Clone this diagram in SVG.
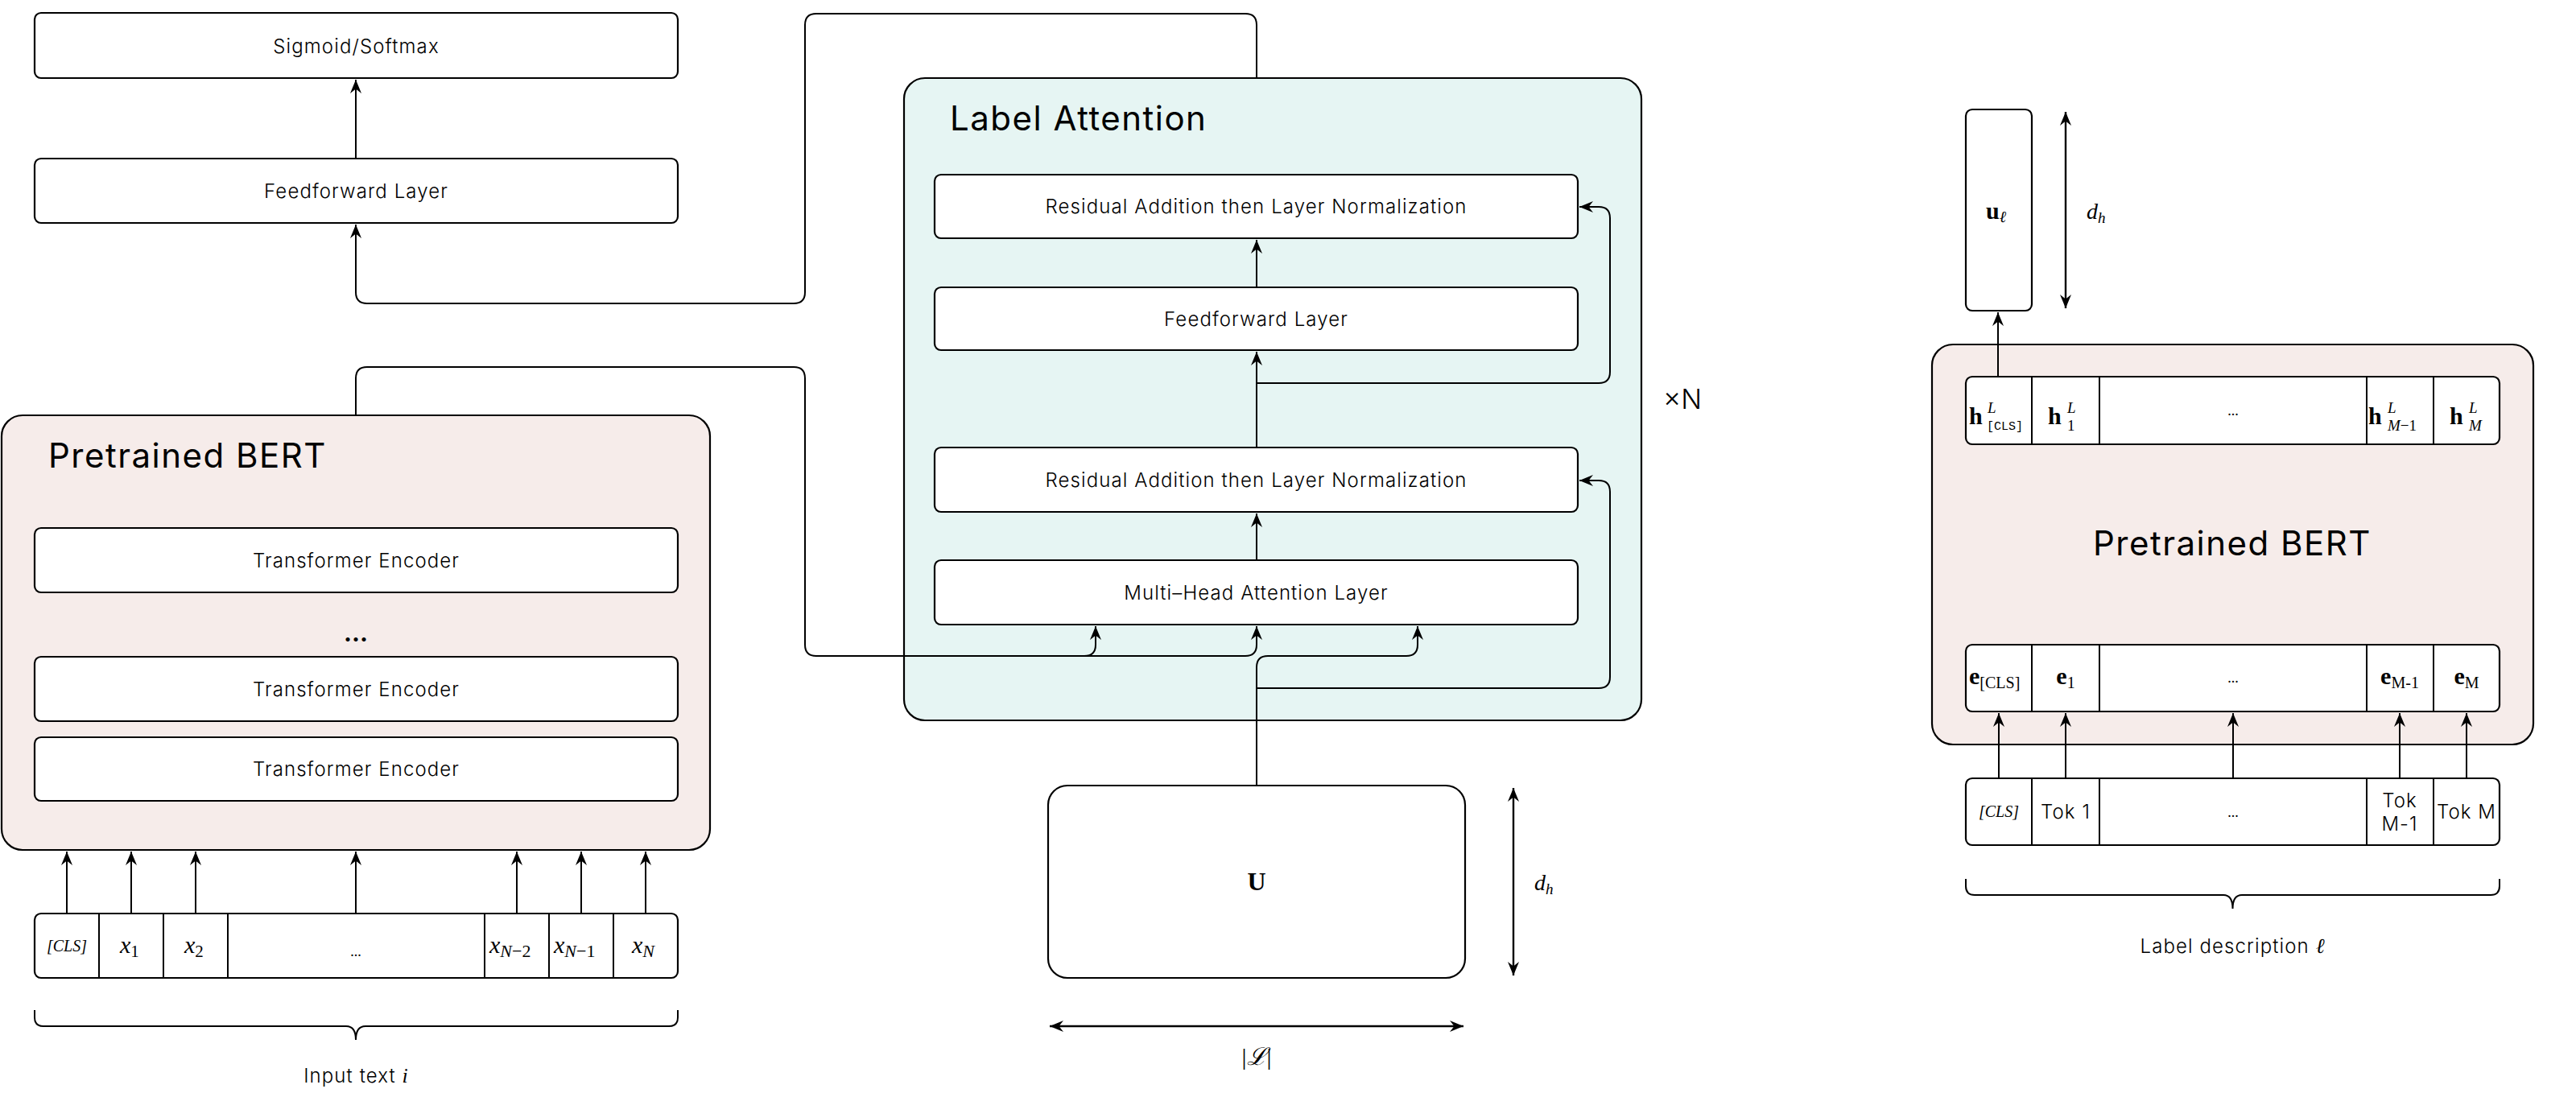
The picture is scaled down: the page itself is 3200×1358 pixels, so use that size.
<svg xmlns="http://www.w3.org/2000/svg" width="3200" height="1358" viewBox="0 0 3200 1358">
<defs>
<marker id="ah" viewBox="-18 -8 20 16" refX="0" refY="0" markerWidth="20" markerHeight="16" markerUnits="userSpaceOnUse" orient="auto-start-reverse">
<path d="M0,0 L-17,-7 L-11.5,0 L-17,7 Z" fill="#000"/>
</marker>
<style>
.bx{fill:#fff;stroke:#000;stroke-width:2.2}
.pk{fill:#f6ecea;stroke:#000;stroke-width:2.2}
.cy{fill:#e6f5f3;stroke:#000;stroke-width:2.2}
.ln{fill:none;stroke:#000;stroke-width:2}
.ar{fill:none;stroke:#000;stroke-width:2;marker-end:url(#ah)}
.da{fill:none;stroke:#000;stroke-width:2.4;marker-end:url(#ah);marker-start:url(#ah)}
.t{font-family:Inter,"Open Sans","Liberation Sans",sans-serif;font-weight:300;font-size:24px;letter-spacing:1.1px;fill:#000;text-anchor:middle;dominant-baseline:central}
.ttl{font-family:Inter,"Open Sans","Liberation Sans",sans-serif;font-weight:400;font-size:42px;letter-spacing:1.5px;fill:#000}
.m{font-family:"Liberation Serif","DejaVu Serif",serif;font-style:italic;fill:#000;letter-spacing:0}
.r{font-family:"Liberation Serif","DejaVu Serif",serif;fill:#000}
.b{font-family:"Liberation Serif","DejaVu Serif",serif;font-weight:bold;fill:#000}
.tt{font-family:"Liberation Mono","DejaVu Sans Mono",monospace;fill:#000}
.c{text-anchor:middle}
</style>
</defs>

<g id="sigmoid">
<rect class="bx" x="43" y="16" width="799" height="81" rx="8"/>
<text class="t" x="442.5" y="57">Sigmoid/Softmax</text>
</g>
<g id="ff-out">
<rect class="bx" x="43" y="197" width="799" height="80" rx="8"/>
<text class="t" x="442.5" y="237">Feedforward Layer</text>
</g>

<g id="bert-left">
<rect class="pk" x="2" y="516" width="880" height="540" rx="26"/>
<text class="ttl" x="60" y="581">Pretrained BERT</text>
<rect class="bx" x="43" y="656" width="799" height="80" rx="8"/>
<text class="t" x="442.5" y="696">Transformer Encoder</text>
<text x="442" y="797" style="font-family:Inter,'Liberation Sans',sans-serif;font-weight:bold;font-size:30px;text-anchor:middle">...</text>
<rect class="bx" x="43" y="816" width="799" height="80" rx="8"/>
<text class="t" x="442.5" y="856">Transformer Encoder</text>
<rect class="bx" x="43" y="916" width="799" height="79" rx="8"/>
<text class="t" x="442.5" y="955.5">Transformer Encoder</text>
</g>

<g id="tokens-left">
<rect class="bx" x="43" y="1135" width="799" height="80" rx="8"/>
<path class="ln" d="M123,1135 V1215 M203,1135 V1215 M283,1135 V1215 M602,1135 V1215 M682,1135 V1215 M762,1135 V1215"/>
<text class="m c" x="83" y="1182" font-size="20">[CLS]</text>
<text class="m" x="149" y="1184" font-size="30">x<tspan class="r" font-size="21" font-style="normal" dy="5">1</tspan></text>
<text class="m" x="229" y="1184" font-size="30">x<tspan class="r" font-size="21" font-style="normal" dy="5">2</tspan></text>
<text class="r c" x="442" y="1188" font-size="18">...</text>
<text class="m" x="608" y="1184" font-size="30">x<tspan font-size="22" dy="5">N</tspan><tspan class="r" font-style="normal" font-size="22">−2</tspan></text>
<text class="m" x="688" y="1184" font-size="30">x<tspan font-size="22" dy="5">N</tspan><tspan class="r" font-style="normal" font-size="22">−1</tspan></text>
<text class="m" x="785" y="1184" font-size="30">x<tspan font-size="22" dy="5">N</tspan></text>
<path class="ln" d="M43,1255 V1264 Q43,1275 54,1275 H430 Q442,1275 442,1292 Q442,1275 454,1275 H831 Q842,1275 842,1264 V1255"/>
<text class="t" x="442" y="1336">Input text <tspan class="m" font-size="26" font-weight="normal">i</tspan></text>
</g>

<g id="label-attention">
<rect class="cy" x="1123" y="97" width="916" height="798" rx="26"/>
<text class="ttl" x="1180" y="162">Label Attention</text>
<rect class="bx" x="1161" y="217" width="799" height="79" rx="8"/>
<text class="t" x="1560.5" y="256.5">Residual Addition then Layer Normalization</text>
<rect class="bx" x="1161" y="357" width="799" height="78" rx="8"/>
<text class="t" x="1560.5" y="396">Feedforward Layer</text>
<rect class="bx" x="1161" y="556" width="799" height="80" rx="8"/>
<text class="t" x="1560.5" y="596">Residual Addition then Layer Normalization</text>
<rect class="bx" x="1161" y="696" width="799" height="80" rx="8"/>
<text class="t" x="1560.5" y="736">Multi–Head Attention Layer</text>
</g>

<g id="times-n">
<text x="2066" y="508" style="font-family:Inter,'Liberation Sans',sans-serif;font-weight:300;font-size:34px">×N</text>
</g>

<g id="u-matrix">
<rect class="bx" x="1302" y="976" width="518" height="239" rx="24"/>
<text class="b c" x="1561" y="1106" font-size="32">U</text>
<text class="m" x="1906" y="1106" font-size="28">d<tspan font-size="19" dy="5">h</tspan></text>
<text class="m c" x="1561" y="1323" font-size="30"><tspan font-style="normal">|</tspan>ℒ<tspan font-style="normal">|</tspan></text>
</g>

<g id="u-label">
<rect class="bx" x="2442" y="136" width="82" height="250" rx="8"/>
<text class="b" x="2467" y="272" font-size="30">u<tspan class="m" font-weight="normal" font-size="20" dy="4">ℓ</tspan></text>
<text class="m" x="2592" y="272" font-size="28">d<tspan font-size="19" dy="5">h</tspan></text>
</g>

<g id="bert-right">
<rect class="pk" x="2400" y="428" width="747" height="497" rx="26"/>
<text class="ttl c" x="2773" y="690">Pretrained BERT</text>
<rect class="bx" x="2442" y="468" width="663" height="84" rx="8"/>
<path class="ln" d="M2524,468 V552 M2608,468 V552 M2940,468 V552 M3023,468 V552"/>
<text class="b" x="2446" y="527" font-size="30">h</text>
<text class="m" x="2469" y="513" font-size="19">L</text>
<text class="tt" x="2468" y="534" font-size="15">[CLS]</text>
<text class="b" x="2544" y="527" font-size="30">h</text>
<text class="m" x="2568" y="513" font-size="19">L</text>
<text class="r" x="2568" y="535" font-size="19">1</text>
<text class="r c" x="2774" y="516" font-size="18">...</text>
<text class="b" x="2942" y="527" font-size="30">h</text>
<text class="m" x="2966" y="513" font-size="19">L</text>
<text class="m" x="2966" y="535" font-size="19">M<tspan class="r" font-style="normal">−1</tspan></text>
<text class="b" x="3043" y="527" font-size="30">h</text>
<text class="m" x="3067" y="513" font-size="19">L</text>
<text class="m" x="3067" y="535" font-size="19">M</text>
<rect class="bx" x="2442" y="801" width="663" height="83" rx="8"/>
<path class="ln" d="M2524,801 V884 M2608,801 V884 M2940,801 V884 M3023,801 V884"/>
<text class="b" x="2446" y="850" font-size="30">e<tspan class="r" font-weight="normal" font-size="20" dy="5">[CLS]</tspan></text>
<text class="b c" x="2566" y="850" font-size="30">e<tspan class="r" font-weight="normal" font-size="20" dy="5">1</tspan></text>
<text class="r c" x="2774" y="848" font-size="18">...</text>
<text class="b c" x="2981" y="850" font-size="30">e<tspan class="r" font-weight="normal" font-size="20" dy="5">M-1</tspan></text>
<text class="b c" x="3064" y="850" font-size="30">e<tspan class="r" font-weight="normal" font-size="20" dy="5">M</tspan></text>
</g>

<g id="tokens-right">
<rect class="bx" x="2442" y="967" width="663" height="83" rx="8"/>
<path class="ln" d="M2524,967 V1050 M2608,967 V1050 M2940,967 V1050 M3023,967 V1050"/>
<text class="m c" x="2483" y="1015" font-size="20">[CLS]</text>
<text class="t" x="2566" y="1008">Tok 1</text>
<text class="r c" x="2774" y="1015" font-size="18">...</text>
<text class="t" x="2981" y="994">Tok</text>
<text class="t" x="2981" y="1023">M-1</text>
<text class="t" x="3064" y="1008">Tok M</text>
<path class="ln" d="M2442,1092 V1101 Q2442,1112 2453,1112 H2762 Q2773.5,1112 2773.5,1129 Q2773.5,1112 2785,1112 H3094 Q3105,1112 3105,1101 V1092"/>
<text class="t" x="2773" y="1175">Label description <tspan class="m" font-size="26" font-weight="normal">ℓ</tspan></text>
</g>

<g id="connectors">
<path class="ar" d="M442,197 V99"/>
<path class="ar" d="M1561,97 V31 Q1561,17 1547,17 H1014 Q1000,17 1000,31 V363 Q1000,377 986,377 H456 Q442,377 442,363 V279"/>
<path class="ar" d="M442,516 V470 Q442,456 456,456 H986 Q1000,456 1000,470 V801 Q1000,815 1014,815 H1347 Q1361,815 1361,801 V778"/>
<path class="ar" d="M1347,815 H1547 Q1561,815 1561,801 V778"/>
<path class="ar" d="M1561,976 V829 Q1561,815 1575,815 H1747 Q1761,815 1761,801 V778"/>
<path class="ar" d="M1561,855 H1986 Q2000,855 2000,841 V611 Q2000,597 1986,597 H1962"/>
<path class="ar" d="M1561,696 V638"/>
<path class="ar" d="M1561,556 V437"/>
<path class="ar" d="M1561,476 H1986 Q2000,476 2000,462 V271 Q2000,257 1986,257 H1962"/>
<path class="ar" d="M1561,357 V298"/>
<path class="ar" d="M83,1135 V1058"/>
<path class="ar" d="M163,1135 V1058"/>
<path class="ar" d="M243,1135 V1058"/>
<path class="ar" d="M442,1135 V1058"/>
<path class="ar" d="M642,1135 V1058"/>
<path class="ar" d="M722,1135 V1058"/>
<path class="ar" d="M802,1135 V1058"/>
<path class="ar" d="M2482,468 V388"/>
<path class="ar" d="M2483,967 V886"/>
<path class="ar" d="M2566,967 V886"/>
<path class="ar" d="M2774,967 V886"/>
<path class="ar" d="M2981,967 V886"/>
<path class="ar" d="M3064,967 V886"/>
<path class="da" d="M1880,979 V1212"/>
<path class="da" d="M1304,1275 H1818"/>
<path class="da" d="M2566,139 V383"/>
</g>
</svg>
